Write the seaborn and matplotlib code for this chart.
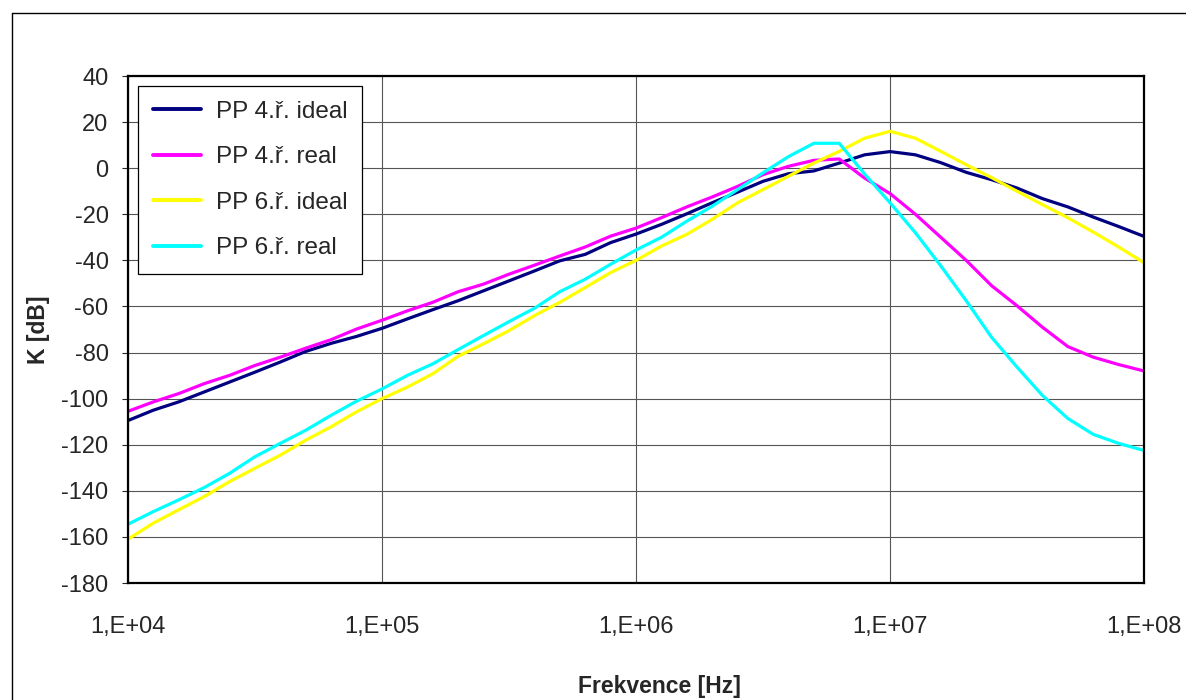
import numpy as np
import pandas as pd
import seaborn as sns
import matplotlib
matplotlib.use("Agg")
import matplotlib.pyplot as plt
from matplotlib.ticker import FixedLocator, FuncFormatter, NullLocator
from matplotlib.lines import Line2D

# frequency points: 10 per decade, 1e4 .. 1e8
freq_exp = [4.0, 4.1, 4.2, 4.3, 4.4, 4.5, 4.6, 4.7, 4.8, 4.9,
            5.0, 5.1, 5.2, 5.3, 5.4, 5.5, 5.6, 5.7, 5.8, 5.9,
            6.0, 6.1, 6.2, 6.3, 6.4, 6.5, 6.6, 6.7, 6.8, 6.9,
            7.0, 7.1, 7.2, 7.3, 7.4, 7.5, 7.6, 7.7, 7.8, 7.9, 8.0]
freq = [10 ** e for e in freq_exp]

pp4_ideal = [-109.5, -105, -101.4, -97.1, -92.8, -88.5, -84.1, -79.5, -76, -73,
             -69.5, -65.4, -61.4, -57.5, -53.2, -48.9, -44.6, -40.2, -37.4, -32.3,
             -28.6, -24.4, -19.8, -15, -10.4, -5.7, -2.4, -1.2, 2.2, 5.8,
             7.2, 5.8, 2.4, -1.8, -5, -8.6, -13.2, -16.8, -21.2, -25.3, -29.6]
pp4_real = [-105.5, -101.4, -97.8, -93.5, -89.9, -85.6, -82, -78.1, -74.4, -69.8,
            -66, -61.9, -58.2, -53.6, -50.3, -46, -42.1, -38.1, -34.2, -29.5,
            -26, -21.5, -16.8, -12.5, -7.9, -2.8, 0.8, 3.4, 4, -4.3,
            -11, -20, -30, -40, -51, -59.7, -69, -77.4, -82, -85.2, -88]
pp6_ideal = [-161, -154, -148.2, -142.5, -136, -130.2, -124.5, -118, -112.2, -105.7,
             -100, -95, -89.2, -81.6, -76.2, -70.5, -64, -58.2, -51.8, -45.3,
             -40, -33.8, -28.7, -22.2, -15, -9.3, -3.5, 2.2, 7.3, 13,
             16, 13, 7.3, 1.5, -4.1, -10, -15.8, -21.5, -27.7, -34.2, -41]
pp6_real = [-154.5, -149, -143.9, -138.6, -132.4, -125.2, -119.4, -113.7, -107.2, -101.1,
            -95.8, -89.9, -84.9, -78.7, -72.6, -66.6, -60.8, -53.6, -48.2, -41.7,
            -35.5, -30, -23, -16.5, -9.3, -2, 5, 10.8, 10.8, -2.5,
            -15, -28, -42.4, -57.5, -73.4, -86.3, -98.6, -108.6, -115.5, -119.4, -122.5]

series_names = ["PP 4.ř. ideal", "PP 4.ř. real", "PP 6.ř. ideal", "PP 6.ř. real"]
series_colors = ["#000080", "#FF00FF", "#FFFF00", "#00FFFF"]

df = pd.concat([
    pd.DataFrame({"f": freq, "K": vals, "serie": name})
    for name, vals in zip(series_names, [pp4_ideal, pp4_real, pp6_ideal, pp6_real])
])

sns.set_style("white")
plt.rcParams["font.family"] = ["Liberation Sans", "DejaVu Sans"]
plt.rcParams["axes.unicode_minus"] = False

fig = plt.figure(figsize=(11.86, 7.0), dpi=100)
ax = fig.add_axes([128 / 1186, 1 - 583 / 700, (1144 - 128) / 1186, (583 - 76) / 700])

sns.lineplot(data=df, x="f", y="K", hue="serie", hue_order=series_names,
             palette=dict(zip(series_names, series_colors)), linewidth=2.3,
             sort=False, ax=ax)

ax.set_xscale("log")
ax.set_xlim(1e4, 1e8)
ax.set_ylim(-180, 40)
ax.xaxis.set_major_locator(FixedLocator([1e4, 1e5, 1e6, 1e7, 1e8]))
ax.xaxis.set_minor_locator(NullLocator())
ax.xaxis.set_major_formatter(FuncFormatter(lambda v, p: "1,E+%02d" % round(np.log10(v))))
ax.set_yticks(range(-180, 41, 20))

ax.grid(True, color="#555555", linewidth=0.8)
for s in ax.spines.values():
    s.set_color("black")
    s.set_linewidth(1.6)

ax.tick_params(axis="y", which="major", left=True, length=4, width=0.8,
               direction="out", pad=10, labelsize=17)
ax.tick_params(axis="x", which="major", bottom=False, length=0, pad=24, labelsize=17)

ax.set_xlabel("Frekvence [Hz]", fontsize=16.5, fontweight="bold")
ax.set_ylabel("K [dB]", fontsize=16.5, fontweight="bold")
ax.xaxis.set_label_coords(0.523, -(686 - 583) / 507)
ax.xaxis.label.set_va("center")
ax.yaxis.set_label_coords(-(128 - 38) / 1016, 0.5)
ax.yaxis.label.set_va("center")

leg = ax.legend(loc="upper left", bbox_to_anchor=(138 / 1186, 1 - 86 / 700),
                bbox_transform=fig.transFigure, fontsize=17.5, frameon=True,
                fancybox=False, edgecolor="black", framealpha=1,
                handlelength=2.0, handletextpad=0.6, labelspacing=0.97,
                borderpad=0.6, borderaxespad=0)
leg.get_frame().set_linewidth(0.9)
for line in leg.get_lines():
    line.set_linewidth(2.8)

# chart area border (left and top edges visible)
x0, y0 = 11.5 / 1186, 1 - 12.5 / 700
fig.add_artist(Line2D([x0, x0], [0, y0], transform=fig.transFigure, color="black", lw=1.0))
fig.add_artist(Line2D([x0, 1], [y0, y0], transform=fig.transFigure, color="black", lw=1.0))

fig.savefig("out.png", dpi=100)
